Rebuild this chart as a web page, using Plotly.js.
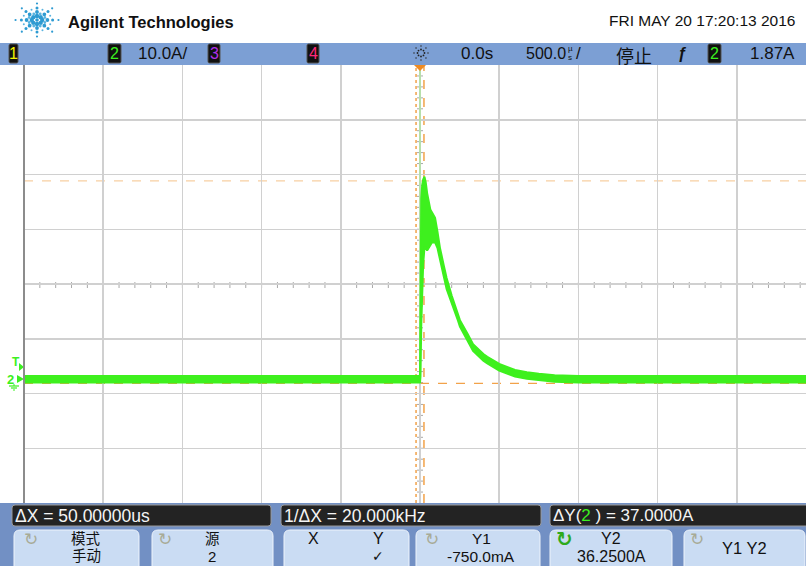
<!DOCTYPE html>
<html><head><meta charset="utf-8">
<script src="https://cdn.plot.ly/plotly-3.0.1.min.js"></script>
<style>html,body{margin:0;padding:0;background:#fff;}#plot{width:806px;height:566px;}</style>
</head><body><div id="plot"></div>
<script>
// ---- data (time in microseconds, current in amps) ----
const timeUs = [-2500, -2000, -1500, -1000, -500, -5, 0, 3, 8, 14, 20, 28, 36, 45, 55, 65, 75, 85, 95, 110, 126, 150, 168, 200, 240, 252, 300, 335, 400, 425, 500, 550, 600, 675, 750, 850, 1000, 1500, 2000, 2437];
const upperA = [0.6, 0.6, 0.6, 0.6, 0.6, 0.6, 0.8, 22.0, 33.0, 35.5, 36.5, 37.0, 36.0, 34.0, 32.5, 31.0, 30.5, 30.0, 29.5, 27.0, 24.0, 20.8, 18.5, 15.3, 11.9, 10.8, 8.3, 6.4, 4.6, 4.1, 2.8, 2.2, 1.7, 1.3, 1.0, 0.75, 0.6, 0.6, 0.6, 0.6];
const lowerA = [-0.6, -0.6, -0.6, -0.6, -0.6, -0.6, -0.6, 0.5, 10.0, 16.0, 21.0, 24.0, 24.0, 23.5, 24.0, 24.5, 25.0, 25.0, 25.0, 24.0, 22.0, 18.8, 16.5, 13.9, 10.7, 9.6, 7.1, 5.2, 3.4, 2.9, 1.6, 1.0, 0.5, 0.1, -0.2, -0.45, -0.6, -0.6, -0.6, -0.6];
const spikeT = [0, 0];
const spikeA = [0, 60];
const cursorX = [-25, 25];        // us
const cursorY = [-0.75, 36.25];   // A
const timePerDiv = 500;           // us/div
const ampPerDiv = 10;             // A/div
const centerA = 17.4;             // value at screen centre
const statusTexts = {vdiv: '10.0A/', tpos: '0.0s', tdiv: '500.0', stop: '停止', trig: '1.87A'};
const measTexts = ['ΔX = 50.00000us', '1/ΔX = 20.000kHz', 'ΔY(<span style="color:#3cf020">2</span> ) = 37.0000A'];
const dateText = 'FRI MAY 20 17:20:13 2016';

// ---- geometry ----
const L = 24, T = 65, R = 806, B = 503;
const pw = R - L, ph = B - T;
const X = x => (x - L) / pw;
const Y = y => (B - y) / ph;
const divPx = 79.2;
const xRange = [-5 * timePerDiv, -5 * timePerDiv + (pw / divPx) * timePerDiv];
const yRange = [centerA - 4 * ampPerDiv, centerA + 4 * ampPerDiv];

const shapes = [];
const ann = [];
const FONT = 'Liberation Sans, Arial, Noto Sans CJK SC, sans-serif';

function rect(x0, y0, x1, y1, fill, lc, lw) {
  shapes.push({type: 'rect', xref: 'paper', yref: 'paper', x0: X(x0), x1: X(x1), y0: Y(y1), y1: Y(y0),
    fillcolor: fill, line: {color: lc || fill, width: lw || 0}, layer: 'above'});
}
function rrect(x0, y0, x1, y1, r, fill, lc, lw) {
  const p = (x, y) => X(x) + ',' + Y(y);
  const d = 'M' + p(x0 + r, y0) + ' L' + p(x1 - r, y0) + ' Q' + p(x1, y0) + ' ' + p(x1, y0 + r) +
    ' L' + p(x1, y1 - r) + ' Q' + p(x1, y1) + ' ' + p(x1 - r, y1) + ' L' + p(x0 + r, y1) +
    ' Q' + p(x0, y1) + ' ' + p(x0, y1 - r) + ' L' + p(x0, y0 + r) + ' Q' + p(x0, y0) + ' ' + p(x0 + r, y0) + ' Z';
  shapes.push({type: 'path', xref: 'paper', yref: 'paper', path: d, fillcolor: fill,
    line: {color: lc || fill, width: lw || 0}, layer: 'above'});
}
function poly(pts, fill) {
  const d = 'M' + pts.map(q => X(q[0]) + ',' + Y(q[1])).join(' L') + ' Z';
  shapes.push({type: 'path', xref: 'paper', yref: 'paper', path: d, fillcolor: fill, line: {color: fill, width: 0}, layer: 'above'});
}
function line(x0, y0, x1, y1, color, w, dash) {
  shapes.push({type: 'line', xref: 'paper', yref: 'paper', x0: X(x0), x1: X(x1), y0: Y(y0), y1: Y(y1),
    line: {color: color, width: w, dash: dash || 'solid'}, layer: 'above'});
}
function dot(cx, cy, r, color) {
  shapes.push({type: 'circle', xref: 'paper', yref: 'paper', x0: X(cx - r), x1: X(cx + r), y0: Y(cy + r), y1: Y(cy - r),
    fillcolor: color, line: {width: 0}, layer: 'above'});
}
function txt(x, y, s, size, color, anchor, bold, family) {
  ann.push({xref: 'paper', yref: 'paper', x: X(x), y: Y(y), text: bold ? '<b>' + s + '</b>' : s, showarrow: false,
    xanchor: anchor || 'left', yanchor: 'middle', borderpad: 0, font: {size: size, color: color || '#000', family: family || FONT}});
}

// ---- header ----
const lc = [37, 20];
for (let k = 0; k < 8; k++) {
  const a = k * Math.PI / 4;
  [[4, 2.2], [8, 1.9], [12, 1.5], [16.5, 1.1]].forEach(([r, s]) => dot(lc[0] + Math.cos(a) * r * 1.3, lc[1] + Math.sin(a) * r, s, '#2e9bd2'));
}
for (let k = 0; k < 8; k++) {
  const a = k * Math.PI / 4 + Math.PI / 8;
  [[6.5, 1.4], [11, 1.0]].forEach(([r, s]) => dot(lc[0] + Math.cos(a) * r * 1.3, lc[1] + Math.sin(a) * r, s, '#5ab4e0'));
}
dot(lc[0], lc[1], 1.8, '#2e9bd2');
txt(67, 22, 'Agilent Technologies', 16.5, '#111', 'left', true);
txt(796, 21, dateText, 15.5, '#111', 'right');

// status bar
rect(0, 43, 806, 65, '#7c9fd4');
function chBox(x0, x1, label, color) {
  rrect(x0, 44, x1, 63, 1.5, '#111', '#555', 1);
  txt((x0 + x1) / 2, 54, label, 16, color, 'center');
}
chBox(9, 18, '1', '#f2f200');
chBox(108, 121, '2', '#3cf020');
txt(137, 54, statusTexts.vdiv, 17, '#111', 'left');
chBox(208, 220, '3', '#b030e8');
chBox(307, 319, '4', '#ff2a7a');
for (let k = 0; k < 8; k++) {
  const a = k * Math.PI / 4;
  dot(421 + Math.cos(a) * 3.5, 53 + Math.sin(a) * 3.5, 0.9, '#222');
  dot(421 + Math.cos(a) * 7, 53 + Math.sin(a) * 7, 0.8, '#333');
}
txt(460, 54, statusTexts.tpos, 17, '#111', 'left');
txt(525, 54, statusTexts.tdiv, 16, '#111', 'left');
txt(570, 48.5, 'µ', 8, '#111', 'center');
txt(570, 57.5, 's', 8, '#111', 'center');
txt(575, 54, '/', 17, '#111', 'left');
txt(615, 55, statusTexts.stop, 18, '#111', 'left', false, 'Noto Sans CJK SC, sans-serif');
txt(682, 54, 'ƒ', 16, '#111', 'center', true);
chBox(708, 721, '2', '#3cf020');
txt(796, 54, statusTexts.trig, 17, '#111', 'right');

// trigger marker
poly([[414, 65], [426, 65], [420, 71]], '#f08a20');

// left markers
txt(16, 362, 'T', 12, '#3cf020', 'center', true);
poly([[19, 363], [19, 371], [24, 367]], '#3cf020');
txt(11, 379, '2', 13, '#3cf020', 'center', true);
poly([[17, 375], [17, 383], [24, 379]], '#3cf020');
line(14, 384, 14, 386, '#3cf020', 1);
line(9, 386, 19, 386, '#3cf020', 1.2);
line(11, 388, 17, 388, '#3cf020', 1.2);
line(13, 390, 15, 390, '#3cf020', 1.2);

// left plot border
line(24, 65, 24, 503, '#8c8c8c', 2);

// ---- bottom bars ----
rect(0, 503, 806, 566, '#7290c4');
rrect(12, 505, 271, 526, 3, '#232323', '#9a9a9a', 1);
rrect(281, 505, 541, 526, 3, '#232323', '#9a9a9a', 1);
rrect(550, 505, 812, 526, 3, '#232323', '#9a9a9a', 1);
txt(14, 515.5, measTexts[0], 17.5, '#f4f4f4', 'left');
txt(283, 515.5, measTexts[1], 17.5, '#f4f4f4', 'left');
txt(552, 515.5, measTexts[2], 17, '#f4f4f4', 'left');

const btns = [[14, 139], [152, 273], [284, 409], [416, 540], [550, 672], [684, 805]];
btns.forEach(b => rrect(b[0], 530, b[1], 572, 6, '#cadcf3', '#eef4fc', 1));
const arrowC = '#a8ab96';
const CJK = 'Liberation Sans, Noto Sans CJK SC, sans-serif';
txt(31, 539, '↻', 17, arrowC, 'center', false, 'DejaVu Sans');
txt(86, 539, '模式', 14.5, '#111', 'center', false, CJK);
txt(86, 556, '手动', 14.5, '#111', 'center', false, CJK);
txt(165, 539, '↻', 17, arrowC, 'center', false, 'DejaVu Sans');
txt(212, 539, '源', 14.5, '#111', 'center', false, CJK);
txt(212, 556, '2', 15, '#111', 'center');
txt(313, 538, 'X', 16, '#111', 'center');
txt(378, 538, 'Y', 16, '#111', 'center');
txt(378, 556, '✓', 14, '#111', 'center', false, 'DejaVu Sans');
txt(432, 539, '↻', 17, arrowC, 'center', false, 'DejaVu Sans');
txt(481, 538, 'Y1', 15.5, '#111', 'center');
txt(481, 556, '-750.0mA', 15.5, '#111', 'center');
txt(564, 539, '<b>↻</b>', 20, '#2faa1c', 'center', false, 'DejaVu Sans');
txt(611, 538, 'Y2', 16, '#111', 'center');
txt(611, 556, '36.2500A', 16, '#111', 'center');
txt(697, 539, '↻', 17, arrowC, 'center', false, 'DejaVu Sans');
txt(744, 548, 'Y1 Y2', 16.5, '#111', 'center');

// ---- centre lines with ticks ----
shapes.push({type: 'line', xref: 'paper', yref: 'y', x0: 0, x1: 1, y0: centerA, y1: centerA, line: {color: '#a9a9a9', width: 1.2}, layer: 'between'});
shapes.push({type: 'line', xref: 'x', yref: 'paper', x0: 0, x1: 0, y0: 0, y1: 1, line: {color: '#a9a9a9', width: 1.2}, layer: 'between'});
for (let t = xRange[0] + timePerDiv / 5; t < xRange[1]; t += timePerDiv / 5) {
  shapes.push({type: 'line', xref: 'x', yref: 'paper', x0: t, x1: t, y0: Y(288), y1: Y(282), line: {color: '#a9a9a9', width: 1}, layer: 'between'});
}
for (let v = yRange[0] + ampPerDiv / 5; v < yRange[1]; v += ampPerDiv / 5) {
  shapes.push({type: 'line', xref: 'paper', yref: 'y', x0: X(417), x1: X(423), y0: v, y1: v, line: {color: '#a9a9a9', width: 1}, layer: 'between'});
}

// ---- cursors ----
shapes.push({type: 'line', xref: 'x', yref: 'paper', x0: cursorX[0], x1: cursorX[0], y0: 0, y1: 1, line: {color: '#f2a24a', width: 1.5, dash: 'dot'}, layer: 'between'});
shapes.push({type: 'line', xref: 'x', yref: 'paper', x0: cursorX[1], x1: cursorX[1], y0: 0, y1: 1, line: {color: '#f2a24a', width: 1.5, dash: 'dash'}, layer: 'between'});
shapes.push({type: 'line', xref: 'paper', yref: 'y', x0: 0, x1: 1, y0: cursorY[0], y1: cursorY[0], line: {color: '#f2a24a', width: 1.2, dash: 'dash'}, layer: 'between'});
shapes.push({type: 'line', xref: 'paper', yref: 'y', x0: 0, x1: 1, y0: cursorY[1], y1: cursorY[1], line: {color: '#f8cfa2', width: 1.2, dash: 'dash'}, layer: 'between'});

// ---- traces ----
const bandX = timeUs.concat(timeUs.slice().reverse());
const bandY = upperA.concat(lowerA.slice().reverse());
const traces = [
  {x: spikeT, y: spikeA, mode: 'lines', line: {color: '#9cee84', width: 1}, hoverinfo: 'skip'},
  {x: bandX, y: bandY, mode: 'lines', fill: 'toself', fillcolor: '#3ef01e', line: {color: '#3ef01e', width: 2}, hoverinfo: 'skip'}
];

const layout = {
  width: 806, height: 566,
  margin: {l: L, r: 806 - R, t: T, b: 566 - B, pad: 0},
  paper_bgcolor: '#ffffff', plot_bgcolor: '#ffffff',
  showlegend: false,
  xaxis: {range: xRange, tick0: 0, dtick: timePerDiv, showgrid: true, gridcolor: '#d0d0d0', gridwidth: 1.5,
    zeroline: false, showticklabels: false, ticks: '', showline: false, fixedrange: true},
  yaxis: {range: yRange, tick0: yRange[0], dtick: ampPerDiv, showgrid: true, gridcolor: '#d0d0d0', gridwidth: 1.5,
    zeroline: false, showticklabels: false, ticks: '', showline: false, fixedrange: true},
  shapes: shapes,
  annotations: ann
};
Plotly.newPlot('plot', traces, layout, {staticPlot: true, displayModeBar: false});
</script>
</body></html>
